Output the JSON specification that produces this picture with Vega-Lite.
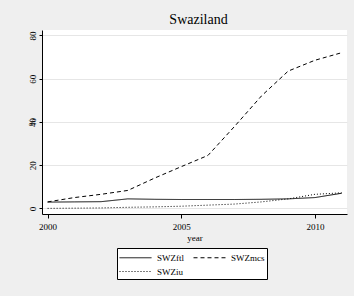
{
  "$schema": "https://vega.github.io/schema/vega-lite/v6.json",
  "autosize": "none",
  "width": 305,
  "height": 184,
  "padding": {"left": 42, "top": 30, "right": 7, "bottom": 82},
  "background": "#efefef",
  "config": {
    "font": "Liberation Serif",
    "view": {"fill": "white", "stroke": null}
  },
  "title": {"text": "Swaziland", "fontSize": 14, "fontWeight": "normal", "color": "black", "font": "Liberation Serif", "anchor": "middle", "offset": 3, "dx": 4},
  "data": {
    "values": [
      {"year": 2000, "series": "SWZftl", "value": 2.9},
      {"year": 2001, "series": "SWZftl", "value": 3.0},
      {"year": 2002, "series": "SWZftl", "value": 3.1},
      {"year": 2003, "series": "SWZftl", "value": 4.4},
      {"year": 2004, "series": "SWZftl", "value": 4.2},
      {"year": 2005, "series": "SWZftl", "value": 4.1},
      {"year": 2006, "series": "SWZftl", "value": 4.1},
      {"year": 2007, "series": "SWZftl", "value": 4.1},
      {"year": 2008, "series": "SWZftl", "value": 4.2},
      {"year": 2009, "series": "SWZftl", "value": 4.4},
      {"year": 2010, "series": "SWZftl", "value": 5.0},
      {"year": 2011, "series": "SWZftl", "value": 7.0},
      {"year": 2000, "series": "SWZmcs", "value": 3.0},
      {"year": 2001, "series": "SWZmcs", "value": 5.0},
      {"year": 2002, "series": "SWZmcs", "value": 6.5},
      {"year": 2003, "series": "SWZmcs", "value": 8.3},
      {"year": 2004, "series": "SWZmcs", "value": 14.0},
      {"year": 2005, "series": "SWZmcs", "value": 19.3},
      {"year": 2006, "series": "SWZmcs", "value": 24.5},
      {"year": 2007, "series": "SWZmcs", "value": 38.0},
      {"year": 2008, "series": "SWZmcs", "value": 52.0},
      {"year": 2009, "series": "SWZmcs", "value": 63.5},
      {"year": 2010, "series": "SWZmcs", "value": 68.5},
      {"year": 2011, "series": "SWZmcs", "value": 72.0},
      {"year": 2000, "series": "SWZiu", "value": 0.0},
      {"year": 2001, "series": "SWZiu", "value": 0.1},
      {"year": 2002, "series": "SWZiu", "value": 0.2},
      {"year": 2003, "series": "SWZiu", "value": 0.5},
      {"year": 2004, "series": "SWZiu", "value": 0.7},
      {"year": 2005, "series": "SWZiu", "value": 1.0},
      {"year": 2006, "series": "SWZiu", "value": 1.5},
      {"year": 2007, "series": "SWZiu", "value": 2.0},
      {"year": 2008, "series": "SWZiu", "value": 3.0},
      {"year": 2009, "series": "SWZiu", "value": 4.4},
      {"year": 2010, "series": "SWZiu", "value": 6.5},
      {"year": 2011, "series": "SWZiu", "value": 7.2}
    ]
  },
  "mark": {"type": "line", "color": "black", "strokeWidth": 1},
  "encoding": {
    "x": {
      "field": "year", "type": "quantitative",
      "scale": {"domain": [1999.79, 2011.2], "nice": false, "zero": false},
      "axis": {"values": [2000, 2005, 2010], "format": "d", "title": "year", "grid": false,
        "domainColor": "black", "tickColor": "black", "tickSize": 4, "labelPadding": 4,
        "labelFontSize": 9, "labelColor": "black", "titleFontSize": 9, "titleFontWeight": "normal",
        "titleColor": "black", "titlePadding": 2}
    },
    "y": {
      "field": "value", "type": "quantitative",
      "scale": {"domain": [-2.6, 82.5], "nice": false, "zero": false},
      "axis": {"values": [0, 20, 40, 60, 80], "grid": true, "gridColor": "#e6e6e6", "gridWidth": 1,
        "domainColor": "black", "tickColor": "black", "tickSize": 3, "labelPadding": 2,
        "labelAngle": -90, "labelFontSize": 9, "labelColor": "black",
        "title": "%", "titleFontSize": 9, "titleFontWeight": "normal", "titleColor": "black",
        "titlePadding": -8}
    },
    "strokeDash": {
      "field": "series", "type": "nominal",
      "scale": {"domain": ["SWZftl", "SWZmcs", "SWZiu"], "range": [[1, 0], [4, 3], [1, 2]]},
      "legend": {
        "orient": "none", "legendX": 75, "legendY": 218, "direction": "horizontal", "columns": 2,
        "title": null, "symbolType": "M-1,0H3.57", "symbolSize": 196, "symbolStrokeWidth": 1,
        "symbolStrokeColor": "black", "symbolFillColor": "transparent", "fillColor": "white", "strokeColor": "black",
        "padding": 2, "labelFontSize": 9, "labelColor": "black", "labelOffset": 23,
        "columnPadding": 7, "rowPadding": 1
      }
    }
  }
}
